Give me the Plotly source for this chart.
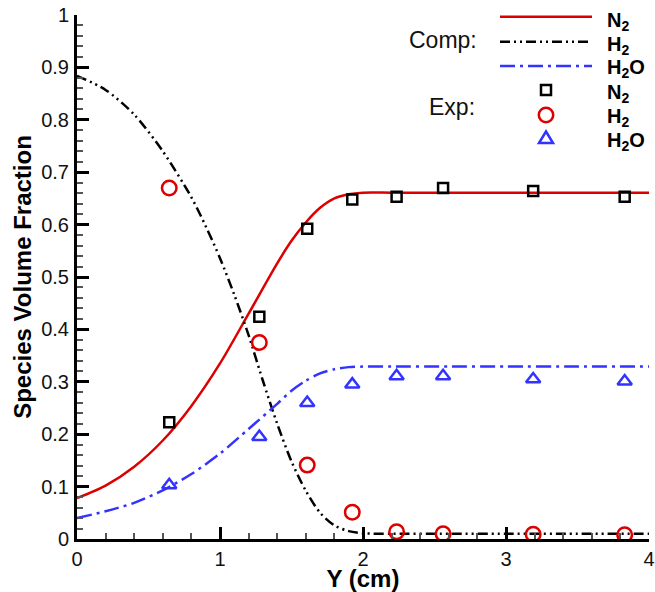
import plotly.graph_objects as go

# ---------------- data ----------------
# computed profiles
comp_n2_x = [0.0, 0.2, 0.4, 0.6, 0.8, 1.0, 1.2, 1.4, 1.5, 1.6, 1.7, 1.8, 1.9, 2.0, 2.2, 2.6, 3.0, 3.5, 4.0]
comp_n2_y = [0.078, 0.102, 0.138, 0.188, 0.254, 0.335, 0.430, 0.526, 0.569, 0.604, 0.632, 0.650, 0.658, 0.661, 0.661, 0.661, 0.661, 0.661, 0.661]

comp_h2_x = [0.0, 0.2, 0.4, 0.6, 0.8, 0.9, 1.0, 1.1, 1.2, 1.3, 1.4, 1.5, 1.6, 1.7, 1.8, 1.9, 2.0, 2.2, 2.6, 3.0, 3.5, 4.0]
comp_h2_y = [0.884, 0.857, 0.810, 0.740, 0.652, 0.597, 0.536, 0.466, 0.389, 0.302, 0.220, 0.148, 0.092, 0.050, 0.026, 0.015, 0.011, 0.010, 0.010, 0.010, 0.010, 0.010]

comp_h2o_x = [0.0, 0.2, 0.4, 0.6, 0.8, 1.0, 1.2, 1.4, 1.5, 1.6, 1.7, 1.8, 1.9, 2.0, 2.2, 2.6, 3.0, 3.5, 4.0]
comp_h2o_y = [0.040, 0.053, 0.069, 0.093, 0.124, 0.163, 0.210, 0.258, 0.283, 0.302, 0.316, 0.324, 0.328, 0.329, 0.329, 0.329, 0.329, 0.329, 0.329]

# experimental data
exp_x = [0.645, 1.275, 1.61, 1.925, 2.235, 2.56, 3.19, 3.83]
exp_n2 = [0.223, 0.424, 0.592, 0.648, 0.653, 0.670, 0.664, 0.653]
exp_h2 = [0.670, 0.375, 0.141, 0.051, 0.014, 0.010, 0.009, 0.008]
exp_h2o = [0.103, 0.195, 0.260, 0.295, 0.311, 0.311, 0.305, 0.301]

legend_labels = ["N<sub>2</sub>", "H<sub>2</sub>", "H<sub>2</sub>O"]

RED = "#dd0000"
BLUE = "#3333ff"
BLACK = "#000000"
DASH_H2 = "10px,4px,2px,4px,2px,4px"
DASH_H2O = "15px,5px,3px,5px"
FONT = "Liberation Sans, Arial, Helvetica, sans-serif"

fig = go.Figure()
fig.add_trace(go.Scatter(x=comp_n2_x, y=comp_n2_y, mode="lines", line=dict(color=RED, width=2.5, shape="spline", smoothing=0.8), showlegend=False))
fig.add_trace(go.Scatter(x=comp_h2_x, y=comp_h2_y, mode="lines", line=dict(color=BLACK, width=2.5, dash=DASH_H2, shape="spline", smoothing=0.8), showlegend=False))
fig.add_trace(go.Scatter(x=comp_h2o_x, y=comp_h2o_y, mode="lines", line=dict(color=BLUE, width=2.5, dash=DASH_H2O, shape="spline", smoothing=0.8), showlegend=False))

fig.add_trace(go.Scatter(x=exp_x, y=exp_n2, mode="markers", marker=dict(symbol="square-open", size=10, color=BLACK, line=dict(width=2.5, color=BLACK)), showlegend=False))
fig.add_trace(go.Scatter(x=exp_x, y=exp_h2, mode="markers", marker=dict(symbol="circle-open", size=14.5, color=RED, line=dict(width=2.5, color=RED)), showlegend=False))
fig.add_trace(go.Scatter(x=exp_x, y=exp_h2o, mode="markers", marker=dict(symbol="triangle-up-open", size=12.5, color=BLUE, line=dict(width=2.5, color=BLUE)), showlegend=False))

# ---------------- legend (drawn manually) ----------------
def py2paper(py):
    return (539 - py) / 524.0

def px2paper(px):
    return (px - 77) / 572.0

shapes = []
line_rows = [(16.7, RED, "solid"), (41.7, BLACK, DASH_H2), (66, BLUE, DASH_H2O)]
for yy, col, dash in line_rows:
    shapes.append(dict(type="line", xref="paper", yref="paper", x0=px2paper(500), x1=px2paper(592),
                       y0=py2paper(yy), y1=py2paper(yy), line=dict(color=col, width=2.5, dash=dash)))

mx = px2paper(546)
shapes.append(dict(type="rect", xref="paper", yref="paper", xsizemode="pixel", ysizemode="pixel",
                   xanchor=mx, yanchor=py2paper(90), x0=-5, x1=5, y0=-5, y1=5,
                   line=dict(color=BLACK, width=2.5)))
shapes.append(dict(type="circle", xref="paper", yref="paper", xsizemode="pixel", ysizemode="pixel",
                   xanchor=mx, yanchor=py2paper(115), x0=-7.2, x1=7.2, y0=-7.2, y1=7.2,
                   line=dict(color=RED, width=2.5)))
shapes.append(dict(type="path", xref="paper", yref="paper", xsizemode="pixel", ysizemode="pixel",
                   xanchor=mx, yanchor=py2paper(138), path="M -7,-5 L 7,-5 L 0,6.5 Z",
                   line=dict(color=BLUE, width=2.5)))

annotations = []
text_rows = [(18, legend_labels[0]), (42, legend_labels[1]), (65, legend_labels[2]),
             (90, legend_labels[0]), (115, legend_labels[1]), (138, legend_labels[2])]
for yy, t in text_rows:
    annotations.append(dict(text="<b>" + t + "</b>", xref="paper", yref="paper", x=px2paper(605), y=py2paper(yy),
                            xanchor="left", yanchor="middle", yshift=-3, showarrow=False,
                            font=dict(family=FONT, size=20, color=BLACK)))
annotations.append(dict(text="Comp:", xref="paper", yref="paper", x=px2paper(479), y=py2paper(40),
                        xanchor="right", yanchor="middle", showarrow=False,
                        font=dict(family=FONT, size=23, color="#111")))
annotations.append(dict(text="Exp:", xref="paper", yref="paper", x=px2paper(477), y=py2paper(107),
                        xanchor="right", yanchor="middle", showarrow=False,
                        font=dict(family=FONT, size=23, color="#111")))

fig.update_layout(
    width=655, height=592,
    margin=dict(l=77, r=6, t=15, b=53),
    paper_bgcolor="white", plot_bgcolor="white",
    font=dict(family=FONT, color=BLACK),
    shapes=shapes, annotations=annotations,
    showlegend=False,
)

axis_common = dict(
    showgrid=False, zeroline=False, showline=True, linecolor=BLACK, linewidth=3,
    ticks="inside", ticklen=12, tickwidth=2.5, tickcolor=BLACK,
    tickfont=dict(family=FONT, size=20, color="#111"),
    minor=dict(ticks="inside", ticklen=6, tickwidth=1.5, tickcolor="#555", nticks=5),
    mirror=False, automargin=False,
)

fig.update_xaxes(range=[0, 4], dtick=1, tick0=0, ticklabelstandoff=0,
                 title=dict(text="<b>Y (cm)</b>", font=dict(family=FONT, size=24, color=BLACK), standoff=2),
                 **axis_common)
fig.update_yaxes(range=[0, 1], dtick=0.1, tick0=0, ticklabelstandoff=1,
                 title=dict(text="<b>Species Volume Fraction</b>", font=dict(family=FONT, size=24, color=BLACK), standoff=3),
                 **axis_common)

fig.write_html("out.html", config={"displayModeBar": False},
               post_script="document.body.style.margin='0';document.body.style.overflow='hidden';")
